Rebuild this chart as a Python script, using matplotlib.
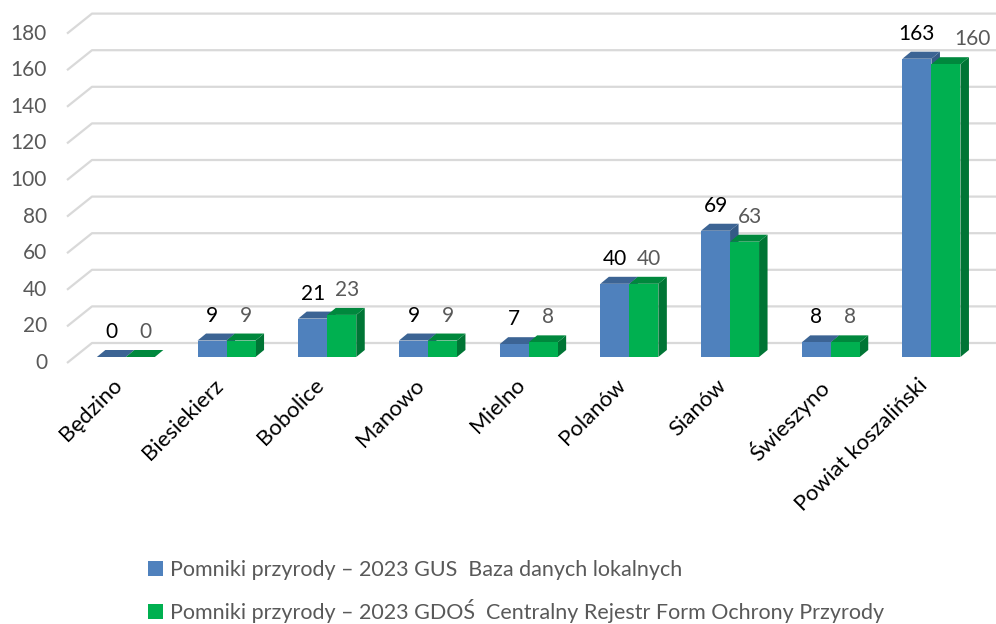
import matplotlib
matplotlib.use("Agg")
import matplotlib.pyplot as plt
from matplotlib.patches import Polygon, Rectangle

# data
categories = ["Będzino", "Biesiekierz", "Bobolice", "Manowo", "Mielno",
              "Polanów", "Sianów", "Świeszyno", "Powiat koszaliński"]
gus_values = [0, 9, 21, 9, 7, 40, 69, 8, 163]
gdos_values = [0, 9, 23, 9, 8, 40, 63, 8, 160]
series_names = ["Pomniki przyrody – 2023 GUS  Baza danych lokalnych",
                "Pomniki przyrody – 2023 GDOŚ  Centralny Rejestr Form Ochrony Przyrody"]
y_ticks = [0, 20, 40, 60, 80, 100, 120, 140, 160, 180]

plt.rcParams['font.family'] = ['Lato', 'DejaVu Sans']

W, H = 996, 624
PX_X = 100.7   # pixels per category
PX_Y = 1.83    # pixels per value unit
X0 = 67        # left front edge of floor (px)
Y0 = 363       # value 0 on front plane (px from top)


def dx(p):
    return p / PX_X


def dy(p):
    return p / PX_Y


fig = plt.figure(figsize=(W / 100, H / 100), dpi=100)
ax = fig.add_axes([0, 0, 1, 1])
ax.set_xlim(-0.5 - X0 / PX_X, -0.5 + (W - X0) / PX_X)
ax.set_ylim(-(H - Y0) / PX_Y, Y0 / PX_Y)
ax.axis("off")

grid_color = "#d9d9d9"
text_gray = "#595959"

# back wall gridlines with slanted floor edge
for t in y_ticks:
    xs = [-0.5, -0.5 + dx(25), ax.get_xlim()[1]]
    ys = [t, t + dy(20), t + dy(20)]
    ax.plot(xs, ys, color=grid_color, lw=1.6, solid_capstyle="butt", zorder=1)
    ax.text(-0.5 + dx(-20), t, str(t), ha="right", va="center",
            fontsize=15, color=text_gray)

# 3D bars
bar_w = dx(29)
off_x, off_y = dx(8.5), dy(6)      # front face shift into depth
dep_x, dep_y = dx(8.5), dy(7)      # bar depth
styles = [("#4f81bd", "#3c6494", "#345a86"), ("#00b050", "#00883d", "#007535")]

for i in range(len(categories)):
    for s, vals in enumerate([gus_values, gdos_values]):
        v = vals[i]
        front, top, side = styles[s]
        x1 = i + off_x - bar_w + s * bar_w
        x2 = x1 + bar_w
        yb = off_y
        yt = off_y + v
        z = 3 + s
        ax.add_patch(Polygon([(x2, yb), (x2 + dep_x, yb + dep_y),
                              (x2 + dep_x, yt + dep_y), (x2, yt)],
                             closed=True, fc=side, ec="none", zorder=z))
        ax.add_patch(Polygon([(x1, yt), (x1 + dep_x, yt + dep_y),
                              (x2 + dep_x, yt + dep_y), (x2, yt)],
                             closed=True, fc=top, ec="none", zorder=z))
        if v > 0:
            ax.add_patch(Rectangle((x1, yb), bar_w, v, fc=front, ec="none", zorder=z))

        # data labels
        lx = (x1 + x2) / 2
        if s == 1:
            lx += dx(5)
            if gus_values[i] >= 100 and v >= 100:
                lx += dx(22)
        ax.text(lx, yt + dy(25), str(v), ha="center", va="center", fontsize=15,
                color="black" if s == 0 else text_gray, zorder=10)

    # category labels
    ax.text(i + off_x - dx(14), dy(-12), categories[i], rotation=45,
            rotation_mode="anchor", ha="right", va="top", fontsize=16, color="black")

# legend
handles = [Rectangle((0, 0), 1, 1, fc=styles[0][0]), Rectangle((0, 0), 1, 1, fc=styles[1][0])]
leg = fig.legend(handles, series_names, loc="upper left",
                 bbox_to_anchor=(129 / W, 1 - 541 / H), frameon=False,
                 fontsize=15.5, handlelength=0.7, handleheight=0.7,
                 handletextpad=0.3, labelspacing=0.86, labelcolor=text_gray)

fig.savefig("out.png", dpi=100)
